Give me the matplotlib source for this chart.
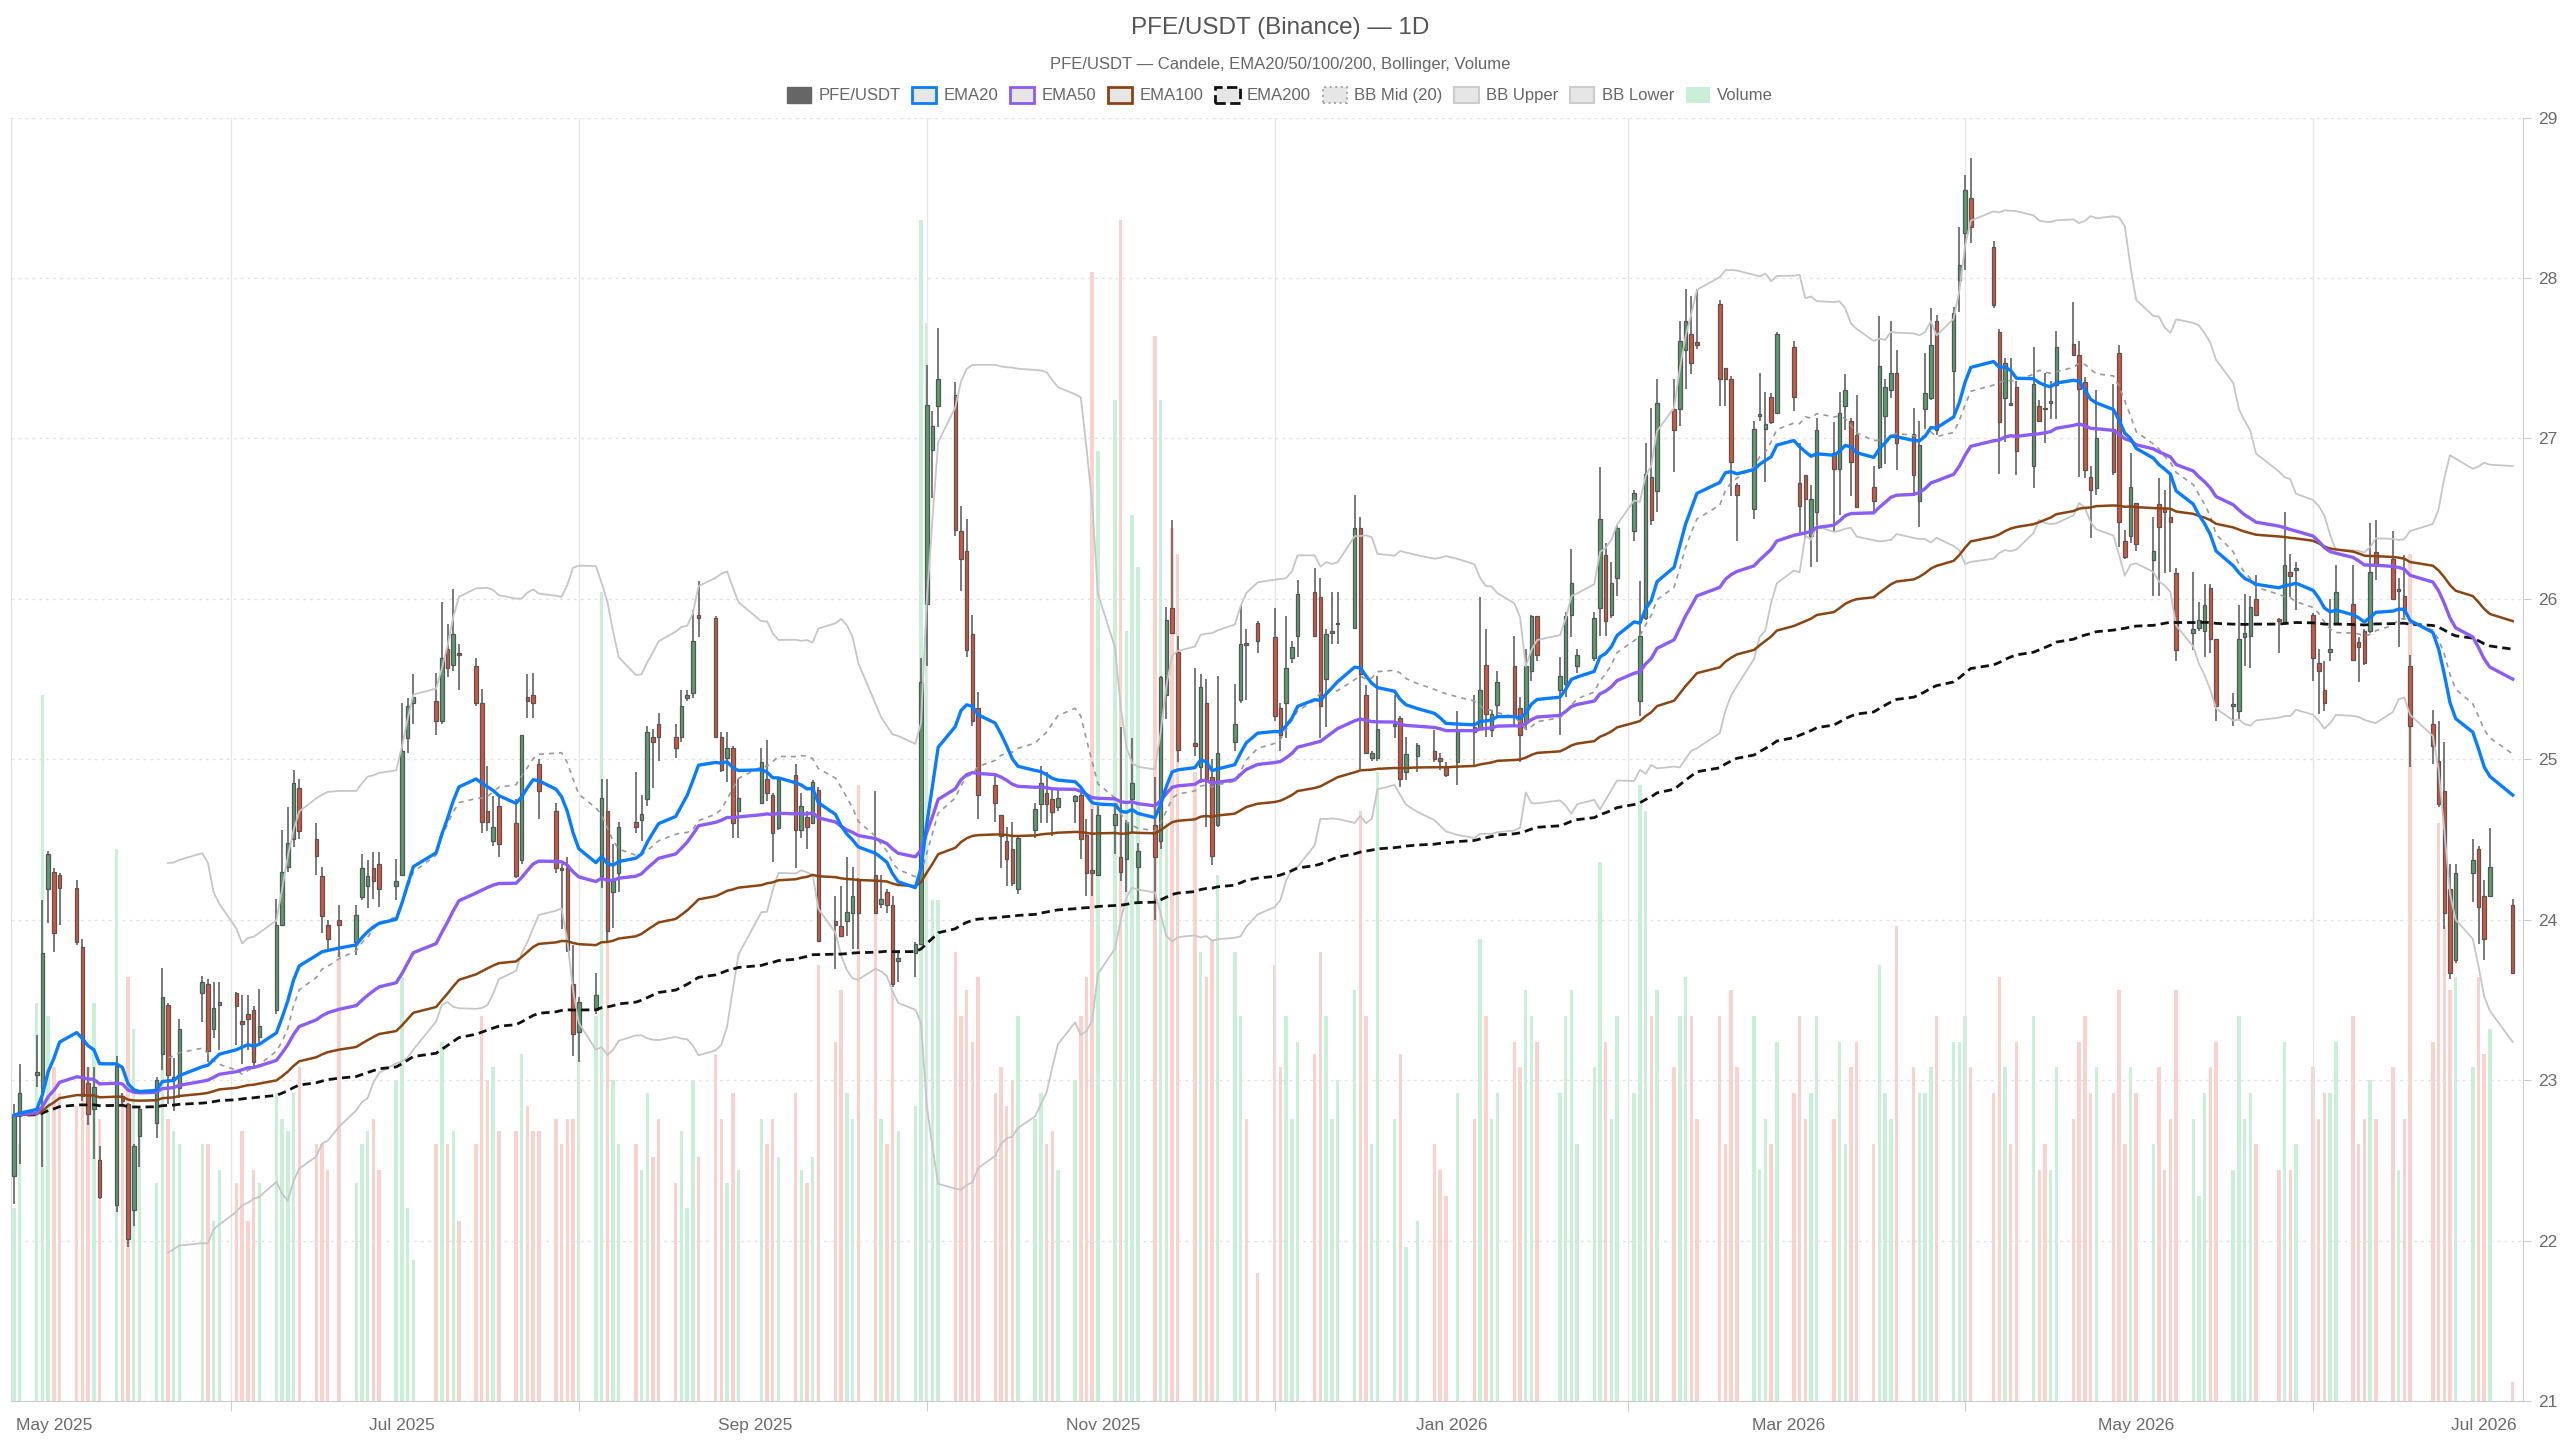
import numpy as np
import pandas as pd
import matplotlib
matplotlib.use("Agg")
import matplotlib.pyplot as plt
import matplotlib.dates as mdates
from matplotlib.patches import Patch

plt.rcParams['font.family'] = ['Liberation Sans', 'DejaVu Sans']

# trading days (NYSE calendar, holidays removed)
holidays = ['2025-05-26', '2025-06-19', '2025-07-04', '2025-09-01', '2025-11-27',
            '2025-12-25', '2026-01-01', '2026-01-19', '2026-02-16', '2026-04-03',
            '2026-05-25', '2026-06-19', '2026-07-03']
days = pd.bdate_range('2025-04-24', '2026-07-06')
days = days[~days.isin(pd.to_datetime(holidays))]

# OHLC, one row per month
opens = [
    22.40, 22.78, 23.03, 22.95, 24.19,
    24.30, 24.28, 24.20, 23.83, 22.98, 22.82, 22.50, 22.22, 22.90, 22.85, 22.19, 22.65, 22.73, 23.16, 23.47, 23.00, 22.95, 23.54, 23.60, 23.32, 23.47,
    23.54, 23.37, 23.41, 23.44, 23.27, 23.44, 23.97, 24.33, 24.50, 24.82, 24.50, 24.27, 23.97, 24.00, 23.86, 24.14, 24.21, 24.32, 24.35, 24.21,
    24.28, 25.13, 25.35, 25.36, 25.24, 25.69, 25.59, 25.66, 25.58, 25.35, 24.68, 24.49, 24.71, 24.60, 24.37, 25.39, 25.40, 24.97, 24.68, 24.32, 24.32, 23.60,
    23.30, 23.44, 24.27, 24.68, 24.17, 24.29, 24.61, 24.62, 24.75, 25.14, 25.22, 25.14, 25.14, 25.38, 25.41, 25.90, 25.88, 25.14, 25.01, 25.07, 24.68,
    24.73, 24.88, 24.78, 24.57, 24.90, 24.56, 24.64, 24.60, 24.81, 23.99, 23.96, 23.99, 24.04, 24.25, 24.28, 24.10, 24.17, 24.09, 23.74, 23.79, 23.85,
    25.97, 26.93, 27.20, 27.27, 26.42, 26.30, 25.78, 25.32, 24.84, 24.65, 24.49, 24.44, 24.19, 24.56, 24.72, 24.79, 24.75, 24.70, 24.74, 24.78, 24.53, 24.31, 24.28,
    24.59, 24.39, 24.38, 24.75, 24.33, 24.59, 24.49, 25.40, 25.94, 25.67, 25.10, 24.95, 25.35, 24.89, 24.59, 25.11, 25.37, 25.72, 25.85,
    25.76, 25.32, 25.35, 25.63, 25.77, 26.04, 26.01, 25.50, 25.79, 25.84, 25.82, 26.44, 25.40, 25.01, 25.01, 25.21, 25.26, 24.92, 25.02, 25.05, 25.01, 24.96,
    24.98, 25.20, 25.19, 25.59, 25.18, 25.34, 25.58, 25.32, 25.23, 25.55, 25.89, 25.43, 25.47, 25.90, 25.58, 25.63, 25.94, 26.27, 25.90, 26.13,
    26.42, 25.36, 25.88, 26.76, 26.67, 27.18, 27.18, 27.55, 27.65, 27.60, 27.84, 27.44, 27.37, 26.71, 26.56, 27.14, 27.06, 27.26, 27.16,
    27.57, 26.72, 26.77, 26.39, 26.54, 26.91, 26.81, 27.20, 27.11, 27.02, 26.70, 26.82, 27.14, 27.30, 27.41, 27.03, 26.61, 27.18, 27.25, 27.73, 27.42, 27.99,
    28.28, 28.50, 28.19, 27.66, 27.25, 27.22, 27.32, 26.83, 27.20, 27.19, 27.22, 27.33, 27.59, 27.52, 27.35, 26.76, 26.69, 27.06, 27.53, 26.36, 26.39,
    26.60, 26.24, 26.59, 26.56, 26.51, 26.16, 25.79, 25.82, 25.80, 26.07, 25.75, 25.33, 25.30, 25.76, 25.77, 26.00, 25.87, 25.85, 26.17, 26.18,
    25.90, 25.60, 25.43, 25.67, 25.85, 25.97, 25.73, 25.80, 25.80, 26.29, 26.25, 26.05, 26.02, 25.58, 25.22, 24.99, 24.80, 24.19, 23.75, 24.29, 24.44,
    24.15, 24.15, 24.09,
]
highs = [
    22.85, 23.10, 23.28, 24.12, 24.43,
    24.32, 24.29, 24.25, 23.88, 23.08, 23.08, 22.59, 23.15, 22.92, 22.86, 22.60, 22.84, 23.02, 23.70, 23.48, 23.14, 23.38, 23.65, 23.63, 23.61, 23.61,
    23.55, 23.53, 23.53, 23.46, 23.57, 24.13, 24.56, 24.70, 24.93, 24.88, 24.60, 24.33, 24.00, 24.09, 24.09, 24.41, 24.37, 24.42, 24.42, 24.38,
    25.35, 25.38, 25.53, 25.54, 25.98, 25.84, 26.06, 25.72, 25.63, 25.44, 24.96, 24.77, 24.77, 24.75, 25.15, 25.53, 25.54, 25.00, 24.73, 24.35, 24.39, 23.84,
    23.52, 23.67, 24.88, 24.88, 24.47, 24.61, 24.92, 24.78, 25.21, 25.19, 25.29, 25.22, 25.43, 25.43, 25.93, 26.11, 25.89, 25.17, 25.17, 25.08, 24.88,
    25.07, 25.12, 24.79, 24.89, 24.97, 24.79, 24.68, 24.87, 24.83, 24.15, 24.21, 24.39, 24.33, 24.26, 24.80, 24.28, 24.19, 24.15, 23.81, 23.86, 25.63,
    27.46, 27.17, 27.69, 27.35, 26.58, 26.50, 25.90, 25.42, 24.90, 24.65, 24.58, 24.61, 24.52, 24.73, 24.96, 24.92, 24.82, 24.82, 24.78, 24.79, 24.63, 24.69, 24.71,
    24.73, 25.20, 24.62, 25.13, 24.48, 24.89, 25.52, 25.95, 26.49, 25.77, 25.57, 25.53, 25.50, 25.00, 25.52, 25.47, 25.96, 25.81, 25.86,
    25.94, 25.35, 25.89, 25.74, 26.12, 26.19, 26.13, 25.81, 26.04, 26.04, 26.65, 26.51, 25.46, 25.05, 25.52, 25.40, 25.27, 25.14, 25.10, 25.18, 25.04, 24.98,
    25.30, 25.40, 26.01, 25.81, 25.31, 25.55, 25.77, 25.39, 25.69, 25.90, 25.89, 25.64, 25.92, 26.31, 25.69, 25.92, 26.82, 26.35, 26.23, 26.46,
    26.68, 26.11, 26.97, 27.19, 27.37, 27.37, 27.73, 27.93, 27.89, 27.93, 27.86, 27.44, 27.39, 26.72, 27.11, 27.41, 27.29, 27.28, 27.66,
    27.61, 26.97, 26.77, 26.71, 27.13, 27.10, 27.29, 27.40, 27.13, 27.27, 26.83, 27.76, 27.37, 27.73, 27.55, 27.19, 27.11, 27.53, 27.81, 27.77, 27.82, 28.32,
    28.64, 28.75, 28.23, 27.68, 27.50, 27.50, 27.36, 27.57, 27.24, 27.41, 27.36, 27.67, 27.85, 27.61, 27.38, 26.83, 27.30, 27.34, 27.58, 26.43, 26.91,
    26.60, 26.51, 26.75, 26.68, 26.78, 26.19, 26.17, 25.98, 26.09, 26.09, 25.75, 25.41, 25.96, 26.03, 26.02, 26.15, 25.88, 26.54, 26.28, 26.23,
    25.91, 25.69, 25.61, 26.00, 26.21, 26.21, 25.76, 25.81, 26.47, 26.49, 26.42, 26.13, 26.27, 25.65, 25.31, 25.24, 25.11, 24.35, 24.35, 24.50, 24.46,
    24.25, 24.57, 24.13,
]
lows = [
    22.23, 22.48, 22.96, 22.46, 23.98,
    23.80, 23.97, 23.84, 22.87, 22.72, 22.51, 22.26, 22.18, 22.84, 21.96, 22.09, 22.46, 22.64, 23.06, 22.85, 22.81, 22.89, 23.36, 23.11, 23.26, 23.19,
    23.22, 23.10, 23.19, 23.08, 23.21, 23.41, 23.96, 24.30, 24.45, 24.50, 24.28, 23.92, 23.81, 23.77, 23.78, 24.12, 24.07, 24.13, 24.08, 24.12,
    24.27, 25.04, 25.22, 25.15, 25.22, 25.51, 25.55, 25.43, 25.33, 24.54, 24.55, 24.46, 24.39, 24.26, 24.35, 25.26, 25.26, 24.63, 24.29, 23.94, 23.80, 23.15,
    23.11, 23.41, 24.20, 23.87, 23.95, 24.17, 24.54, 24.49, 24.71, 24.82, 24.99, 25.01, 25.11, 25.36, 25.38, 25.76, 25.13, 24.92, 24.86, 24.51, 24.51,
    24.72, 24.74, 24.36, 24.56, 24.32, 24.51, 24.44, 24.60, 23.86, 23.69, 23.89, 23.90, 23.82, 23.82, 24.04, 24.07, 24.04, 23.58, 23.61, 23.64, 23.85,
    25.58, 26.63, 27.07, 26.39, 26.05, 25.64, 25.21, 24.63, 24.61, 24.32, 24.21, 24.21, 24.16, 24.51, 24.60, 24.60, 24.52, 24.68, 24.60, 24.38, 24.15, 24.15, 24.27,
    24.41, 24.24, 24.17, 24.54, 24.10, 24.00, 24.44, 25.25, 25.78, 24.98, 25.02, 24.85, 24.58, 24.34, 24.58, 25.05, 25.35, 25.37, 25.66,
    25.24, 25.05, 25.13, 25.60, 25.64, 25.76, 25.13, 25.20, 25.72, 25.72, 25.82, 24.94, 25.04, 24.99, 24.99, 25.13, 24.83, 24.87, 24.92, 24.98, 24.93, 24.89,
    24.84, 24.95, 25.18, 25.14, 25.14, 25.27, 25.21, 24.98, 25.18, 25.49, 25.61, 25.15, 25.39, 25.76, 25.54, 25.61, 25.77, 25.77, 25.88, 26.02,
    26.36, 25.27, 25.87, 26.46, 26.54, 26.79, 27.08, 27.31, 27.40, 27.56, 27.20, 27.20, 26.64, 26.36, 26.50, 27.11, 26.73, 27.09, 27.15,
    27.17, 26.41, 26.37, 26.20, 26.23, 26.42, 26.52, 27.05, 26.64, 26.57, 26.53, 26.81, 26.84, 27.25, 26.80, 26.64, 26.45, 27.06, 27.24, 27.02, 27.14, 27.79,
    28.05, 28.22, 27.81, 26.78, 26.98, 27.20, 26.77, 26.69, 27.11, 26.97, 27.12, 27.12, 27.52, 26.76, 26.75, 26.38, 26.65, 26.77, 26.32, 26.25, 26.35,
    26.30, 26.02, 26.02, 26.16, 26.17, 25.61, 25.68, 25.80, 25.64, 25.66, 25.24, 25.21, 25.25, 25.58, 25.57, 25.89, 25.66, 25.84, 26.01, 25.93,
    25.49, 25.28, 25.30, 25.61, 25.84, 25.61, 25.48, 25.59, 25.79, 26.12, 25.99, 25.70, 25.87, 24.95, 24.97, 24.70, 23.94, 23.63, 23.73, 24.11, 23.85,
    23.75, 24.14, 23.67,
]
closes = [
    22.78, 22.92, 23.05, 23.79, 24.41,
    23.92, 24.20, 23.86, 22.90, 22.79, 22.96, 22.27, 23.09, 22.87, 22.01, 22.59, 22.82, 23.00, 23.52, 23.03, 23.02, 23.32, 23.61, 23.18, 23.45, 23.49,
    23.46, 23.35, 23.38, 23.11, 23.34, 23.97, 24.30, 24.48, 24.85, 24.55, 24.40, 24.02, 23.88, 23.97, 24.03, 24.32, 24.27, 24.24, 24.19, 24.24,
    25.05, 25.33, 25.39, 25.24, 25.63, 25.57, 25.78, 25.65, 25.35, 24.61, 24.61, 24.58, 24.47, 24.27, 25.15, 25.36, 25.35, 24.80, 24.32, 24.31, 23.81, 23.29,
    23.49, 23.53, 24.76, 23.93, 24.24, 24.58, 24.58, 24.66, 25.17, 25.11, 25.14, 25.07, 25.33, 25.40, 25.74, 25.88, 25.14, 24.93, 25.07, 24.60, 24.76,
    24.98, 24.79, 24.54, 24.88, 24.56, 24.71, 24.58, 24.86, 23.87, 23.97, 23.90, 24.05, 24.15, 24.04, 24.04, 24.13, 24.09, 23.60, 23.76, 23.85, 25.48,
    27.21, 27.08, 27.37, 26.43, 26.25, 25.68, 25.24, 24.78, 24.73, 24.52, 24.38, 24.23, 24.51, 24.69, 24.85, 24.72, 24.67, 24.76, 24.77, 24.50, 24.29, 24.29, 24.65,
    24.66, 24.30, 24.61, 24.85, 24.43, 24.39, 25.51, 25.87, 25.79, 25.06, 25.08, 25.45, 24.88, 24.40, 25.04, 25.22, 25.72, 25.71, 25.74,
    25.27, 25.15, 25.57, 25.70, 26.03, 25.77, 25.33, 25.78, 25.80, 25.85, 26.44, 25.53, 25.04, 25.04, 25.19, 25.21, 24.88, 25.03, 25.09, 25.00, 24.99, 24.90,
    25.18, 25.17, 25.43, 25.28, 25.28, 25.48, 25.27, 25.15, 25.58, 25.89, 25.65, 25.52, 25.89, 26.10, 25.65, 25.88, 26.50, 25.86, 26.10, 26.44,
    26.66, 25.77, 26.78, 26.49, 27.22, 27.05, 27.61, 27.73, 27.47, 27.58, 27.37, 27.37, 26.85, 26.65, 27.06, 27.15, 27.09, 27.10, 27.65,
    27.26, 26.58, 26.62, 26.62, 27.05, 26.81, 27.16, 27.30, 26.85, 26.57, 26.61, 27.45, 27.32, 27.41, 26.97, 26.77, 26.96, 27.28, 27.58, 27.05, 27.78, 28.08,
    28.55, 28.32, 27.83, 27.10, 27.47, 27.21, 26.92, 27.34, 27.11, 27.18, 27.23, 27.57, 27.52, 27.31, 26.80, 26.68, 27.00, 26.79, 26.48, 26.26, 26.70,
    26.34, 26.30, 26.45, 26.54, 26.48, 25.68, 25.81, 25.87, 25.96, 25.75, 25.33, 25.34, 25.75, 25.79, 25.95, 25.90, 25.86, 26.21, 26.14, 26.19,
    25.63, 25.55, 25.35, 25.69, 26.04, 25.62, 25.70, 25.60, 26.17, 26.21, 26.00, 26.05, 25.92, 25.21, 25.08, 24.72, 24.04, 23.67, 24.29, 24.37, 24.08,
    23.88, 24.33, 23.67,
]
# volume, relative units (0-100 = full plot height)
volumes = [
    15, 20, 31, 55, 30,
    26, 24, 23, 27, 26, 31, 22, 43, 24, 33, 29, 21, 17, 27, 22, 21, 20, 20, 20, 14, 18,
    17, 21, 14, 18, 17, 24, 22, 21, 24, 26, 20, 20, 18, 35, 17, 20, 21, 22, 18, 25,
    33, 15, 11, 20, 28, 20, 21, 14, 20, 30, 25, 26, 21, 21, 27, 23, 21, 21, 22, 20, 22, 22,
    30, 30, 63, 37, 25, 20, 20, 18, 24, 19, 22, 17, 21, 15, 25, 19, 27, 22, 17, 24, 18,
    22, 20, 22, 19, 24, 18, 17, 19, 34, 28, 32, 24, 22, 48, 38, 22, 20, 32, 21, 23, 92,
    84, 39, 39, 35, 30, 32, 28, 33, 24, 26, 23, 25, 30, 22, 24, 20, 21, 18, 25, 30, 33, 88, 74,
    78, 92, 60, 69, 65, 83, 78, 45, 68, 66, 49, 35, 33, 36, 41, 35, 30, 22, 10,
    34, 26, 30, 22, 28, 27, 35, 30, 22, 25, 32, 46, 30, 20, 49, 22, 27, 12, 14, 20, 18, 16,
    24, 22, 36, 30, 22, 24, 28, 26, 32, 30, 28, 24, 30, 32, 20, 26, 42, 28, 22, 30,
    24, 48, 46, 30, 32, 26, 30, 33, 30, 22, 30, 20, 32, 26, 30, 18, 22, 20, 28,
    24, 30, 22, 24, 30, 22, 28, 20, 26, 28, 20, 34, 24, 22, 37, 26, 24, 24, 26, 30, 28, 28,
    30, 26, 24, 33, 26, 20, 28, 30, 18, 20, 18, 26, 22, 28, 30, 24, 26, 24, 32, 20, 26,
    24, 20, 26, 18, 22, 32, 22, 16, 24, 26, 28, 18, 30, 22, 24, 20, 18, 28, 18, 20,
    26, 22, 24, 24, 28, 30, 20, 22, 25, 22, 26, 18, 22, 66, 28, 45, 37, 32, 33, 26, 33,
    27, 29, 1.5,
]

df = pd.DataFrame({'open': opens, 'high': highs, 'low': lows, 'close': closes,
                   'volume': volumes}, index=days)

# indicators from the closes
for n in (20, 50, 100, 200):
    df['ema%d' % n] = df['close'].ewm(span=n, adjust=False).mean()
df['bb_mid'] = df['close'].rolling(20).mean()
sd = df['close'].rolling(20).std(ddof=0)
df['bb_up'] = df['bb_mid'] + 2 * sd
df['bb_low'] = df['bb_mid'] - 2 * sd

x = mdates.date2num(df.index)
up = df['close'] >= df['open']

fig = plt.figure(figsize=(25.6, 14.4), dpi=100)
ax = fig.add_axes([11 / 2560, 1 - 1401 / 1440, 2512 / 2560, 1283.5 / 1440])
axv = ax.twinx()
ax.set_zorder(axv.get_zorder() + 1)
ax.patch.set_visible(False)

# volume bars behind everything
axv.bar(x, df['volume'], width=0.6, color=np.where(up, '#c9efd8', '#f9d2cd'), zorder=1)
axv.set_ylim(0, 100)
axv.set_yticks([])
for s in axv.spines.values():
    s.set_visible(False)

# candles
green, red, edge = '#5a9c6f', '#d0573f', '#555555'
ax.vlines(x, df['low'], df['high'], colors=edge, linewidth=1.1, zorder=3)
body = np.maximum((df['close'] - df['open']).abs(), 0.012)
ax.bar(x, body, bottom=np.minimum(df['open'], df['close']), width=0.62,
       color=np.where(up, green, red), edgecolor=edge, linewidth=0.9, zorder=3.5)

# bollinger + emas
ax.plot(x, df['bb_up'], color='#c6c6c6', lw=1.3, zorder=4)
ax.plot(x, df['bb_low'], color='#c6c6c6', lw=1.3, zorder=4)
ax.plot(x, df['bb_mid'], color='#999999', lw=1.2, ls=(0, (3, 3)), zorder=4)
ax.plot(x, df['ema200'], color='#111111', lw=2.0, ls=(0, (3, 1.8)), zorder=4.2)
ax.plot(x, df['ema100'], color='#8b4513', lw=1.8, zorder=4.3)
ax.plot(x, df['ema50'], color='#8b5cf6', lw=2.4, zorder=4.4)
ax.plot(x, df['ema20'], color='#0a7cff', lw=2.4, zorder=4.5)

# axes
may1 = mdates.date2num(pd.Timestamp('2025-05-01'))
ax.set_xlim(may1 - 7.52, may1 + 432.8)
axv.set_xlim(ax.get_xlim())
ax.set_ylim(21, 29)
ax.set_yticks(range(21, 30))
ax.yaxis.tick_right()
ax.tick_params(axis='y', length=6, color='#cccccc', labelcolor='#6b6b6b',
               labelsize=12.5, pad=5)
ax.grid(axis='y', color='#e2e2e2', lw=1, ls=(0, (2, 3)))

grid_months = pd.to_datetime(['2025-06-01', '2025-08-01', '2025-10-01', '2025-12-01',
                              '2026-02-01', '2026-04-01', '2026-06-01'])
label_months = pd.to_datetime(['2025-05-01', '2025-07-01', '2025-09-01', '2025-11-01',
                               '2026-01-01', '2026-03-01', '2026-05-01', '2026-07-01'])
ax.set_xticks(mdates.date2num(grid_months))
ax.set_xticklabels([])
ax.set_xticks(mdates.date2num(label_months), minor=True)
ax.set_xticklabels([d.strftime('%b %Y') for d in label_months], minor=True)
ax.tick_params(axis='x', which='major', length=7, color='#cccccc')
ax.tick_params(axis='x', which='minor', length=0, pad=12, labelcolor='#6b6b6b',
               labelsize=12.5)
ax.grid(axis='x', which='major', color='#e6e6e6', lw=1)

ax.spines['top'].set_visible(False)
ax.spines['left'].set_color('#e0e0e0')
ax.spines['right'].set_color('#cccccc')
ax.spines['bottom'].set_color('#cccccc')

# titles
fig.text(0.5, 1 - 28 / 1440, 'PFE/USDT (Binance) — 1D', ha='center', va='center',
         fontsize=17.5, color='#555555')
fig.text(0.5, 1 - 65 / 1440, 'PFE/USDT — Candele, EMA20/50/100/200, Bollinger, Volume',
         ha='center', va='center', fontsize=12, color='#666666')

box = '#e6e6e6'
handles = [
    Patch(facecolor='#666666', edgecolor='#666666'),
    Patch(facecolor=box, edgecolor='#0a7cff', lw=2),
    Patch(facecolor=box, edgecolor='#8b5cf6', lw=2),
    Patch(facecolor=box, edgecolor='#8b4513', lw=2),
    Patch(facecolor=box, edgecolor='#111111', lw=2, ls='--'),
    Patch(facecolor=box, edgecolor='#aaaaaa', lw=1.5, ls=':'),
    Patch(facecolor=box, edgecolor='#cccccc', lw=1.5),
    Patch(facecolor=box, edgecolor='#cccccc', lw=1.5),
    Patch(facecolor='#c9efd8', edgecolor='none'),
]
labels = ['PFE/USDT', 'EMA20', 'EMA50', 'EMA100', 'EMA200', 'BB Mid (20)',
          'BB Upper', 'BB Lower', 'Volume']
leg = fig.legend(handles, labels, loc='center', bbox_to_anchor=(0.5, 1 - 95 / 1440),
                 ncol=9, frameon=False, fontsize=12, handlelength=1.45,
                 handleheight=1.1, handletextpad=0.45, columnspacing=0.7)
for t in leg.get_texts():
    t.set_color('#666666')

fig.savefig('out.png', dpi=100)
